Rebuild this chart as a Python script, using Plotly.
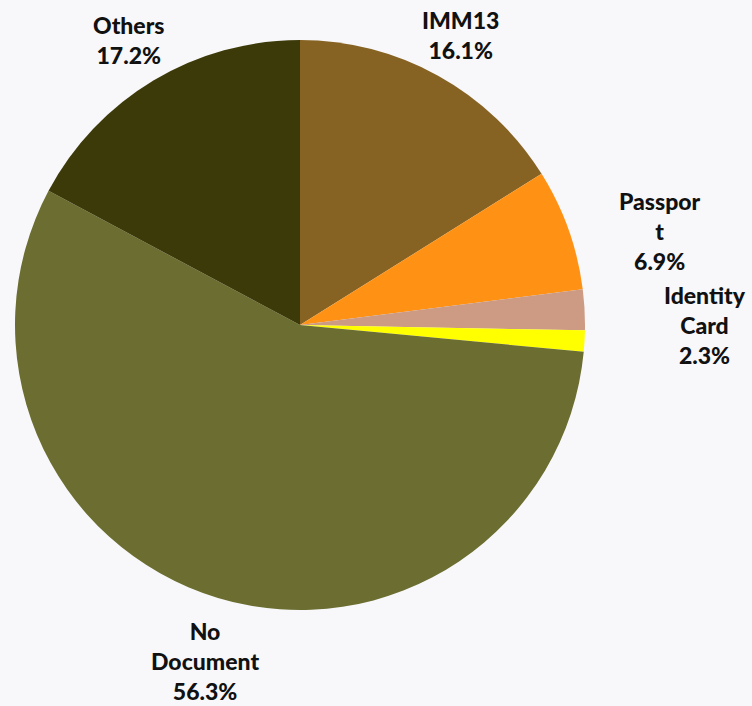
import math
import plotly.graph_objects as go

labels = ["IMM13", "Passport", "Identity Card", "Birth Certificate", "No Document", "Others"]
values = [16.1, 6.9, 2.3, 1.2, 56.3, 17.2]
display_text = ["IMM13<br>16.1%", "Passpor<br>t<br>6.9%", "Identity<br>Card<br>2.3%", "", "No<br>Document<br>56.3%", "Others<br>17.2%"]
colors = ["#876323", "#FF9214", "#CD9A84", "#FFFF00", "#6B6E30", "#3D3A0A"]

# label placement styling (distance of label centre from pie centre, px; angular nudge, deg)
label_dist = [331, 372, 405, 0, 349, 332]
label_nudge = [0, 5, 3, 0, -1, 0]

W, H = 752, 706
CX, CY, R = 300, 325, 285

fig = go.Figure(go.Pie(
    labels=labels,
    values=values,
    textinfo="none",
    sort=False,
    direction="clockwise",
    rotation=0,
    marker=dict(colors=colors, line=dict(width=0)),
    showlegend=False,
    domain=dict(x=[(CX - R) / W, (CX + R) / W], y=[1 - (CY + R) / H, 1 - (CY - R) / H]),
    hoverinfo="label+percent",
))

total = sum(values)
cum = 0.0
for i, v in enumerate(values):
    mid = (cum + v / 2) / total * 360.0
    cum += v
    if not display_text[i]:
        continue
    th = math.radians(mid + label_nudge[i])
    px = CX + label_dist[i] * math.sin(th)
    py = CY - label_dist[i] * math.cos(th)
    fig.add_annotation(
        x=px / W, y=1 - py / H, xref="paper", yref="paper",
        text=display_text[i], showarrow=False,
        xanchor="center", yanchor="middle", align="center",
        font=dict(family="Lato", size=23, color="#111111", weight=900),
    )

fig.update_layout(
    width=W, height=H,
    margin=dict(l=0, r=0, t=0, b=0),
    paper_bgcolor="#F8F8FA",
    plot_bgcolor="#F8F8FA",
)

fig.write_html("out.html", config={"displayModeBar": False},
               post_script="document.body.style.margin='0';document.body.style.background='#F8F8FA';")
